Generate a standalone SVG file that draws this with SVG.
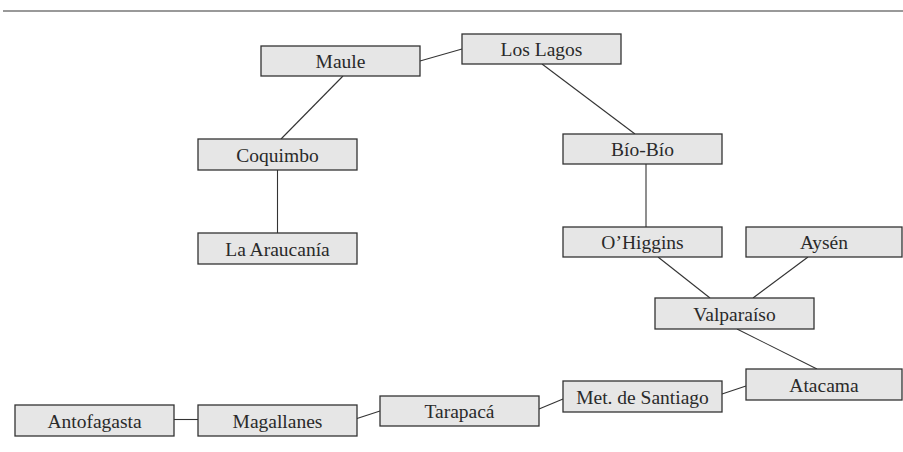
<svg xmlns="http://www.w3.org/2000/svg" width="903" height="452" viewBox="0 0 903 452">
<style>
.b{fill:#e6e6e6;stroke:#333;stroke-width:1.3}
.t{font-family:"Liberation Serif",serif;font-size:19.5px;fill:#2a2a2a;text-anchor:middle}
.c line{stroke:#333;stroke-width:1.1}
</style>
<rect width="903" height="452" fill="#fff"/>
<line x1="3" y1="11" x2="903" y2="11" stroke="#777" stroke-width="1.5"/>
<g class="c" id="connectors">
<line x1="420" y1="61" x2="462" y2="49"/>
<line x1="343" y1="76" x2="281" y2="139"/>
<line x1="277.5" y1="170" x2="277.5" y2="233"/>
<line x1="542" y1="64" x2="635" y2="134"/>
<line x1="646" y1="164" x2="646" y2="227"/>
<line x1="658" y1="257" x2="710" y2="298"/>
<line x1="808" y1="257" x2="753" y2="298"/>
<line x1="737" y1="329" x2="817" y2="369"/>
<line x1="722" y1="394" x2="746" y2="386"/>
<line x1="539" y1="409" x2="563" y2="399"/>
<line x1="357" y1="418.5" x2="380" y2="411"/>
<line x1="174" y1="419.5" x2="198" y2="419.5"/>
</g>
<g id="maule"><rect class="b" x="261" y="46" width="159" height="30"/><text class="t" x="340.5" y="67.5">Maule</text></g>
<g id="loslagos"><rect class="b" x="462" y="34" width="159" height="30"/><text class="t" x="541.5" y="55.5">Los Lagos</text></g>
<g id="coquimbo"><rect class="b" x="198" y="139" width="159" height="31"/><text class="t" x="277.5" y="161.5">Coquimbo</text></g>
<g id="araucania"><rect class="b" x="198" y="233" width="159" height="31"/><text class="t" x="277.5" y="255.5">La Araucanía</text></g>
<g id="biobio"><rect class="b" x="563" y="134" width="159" height="30"/><text class="t" x="642.5" y="155.5">Bío-Bío</text></g>
<g id="ohiggins"><rect class="b" x="563" y="227" width="159" height="30"/><text class="t" x="642.5" y="248.5">O’Higgins</text></g>
<g id="aysen"><rect class="b" x="746" y="227" width="156" height="30"/><text class="t" x="824" y="248.5">Aysén</text></g>
<g id="valparaiso"><rect class="b" x="655" y="298" width="159" height="31"/><text class="t" x="734.5" y="320.5">Valparaíso</text></g>
<g id="atacama"><rect class="b" x="746" y="369" width="156" height="31"/><text class="t" x="824" y="391.5">Atacama</text></g>
<g id="santiago"><rect class="b" x="563" y="381" width="159" height="31"/><text class="t" x="642.5" y="403.5">Met. de Santiago</text></g>
<g id="tarapaca"><rect class="b" x="380" y="396" width="159" height="30"/><text class="t" x="459.5" y="417.5">Tarapacá</text></g>
<g id="magallanes"><rect class="b" x="198" y="405" width="159" height="31"/><text class="t" x="277.5" y="427.5">Magallanes</text></g>
<g id="antofagasta"><rect class="b" x="15" y="405" width="159" height="31"/><text class="t" x="94.5" y="427.5">Antofagasta</text></g>
</svg>
